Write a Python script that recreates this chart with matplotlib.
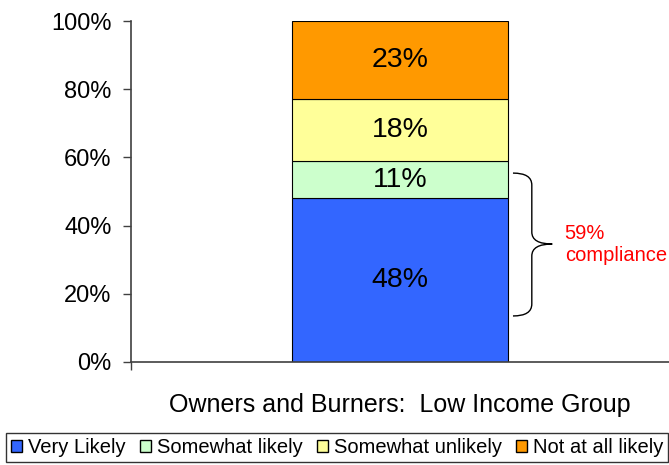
import numpy as np
import matplotlib.pyplot as plt
from matplotlib.path import Path
from matplotlib.patches import PathPatch, Patch

plt.rcParams['font.family'] = ['Liberation Sans', 'DejaVu Sans']

category = 'Owners and Burners:  Low Income Group'
labels = ['Very Likely', 'Somewhat likely', 'Somewhat unlikely', 'Not at all likely']
values = [48, 11, 18, 23]
colors = ['#3366FF', '#CCFFCC', '#FFFF99', '#FF9900']

fig = plt.figure(figsize=(6.69, 4.65), dpi=100)
ax = fig.add_axes([131/669, 1-362/465, 1-131/669, 341/465])

bottom = 0
for lab, v, c in zip(labels, values, colors):
    ax.bar(0, v, width=0.4, bottom=bottom, color=c, edgecolor='black', linewidth=0.8, label=lab)
    ax.text(0, bottom + v/2, f'{v}%', ha='center', va='center', fontsize=20.5)
    bottom += v

ax.set_xlim(-0.5, 0.5)
ax.set_ylim(0, 100)
ax.set_yticks(np.arange(0, 101, 20))
ax.set_yticklabels([f'{t}%' for t in range(0, 101, 20)], fontsize=17)
ax.set_xticks([-0.5])
ax.set_xticklabels([''])
ax.tick_params(axis='both', length=6, width=1, color='#404040', direction='out')
ax.tick_params(axis='y', pad=8)
for s in ['top', 'right']:
    ax.spines[s].set_visible(False)
for s in ['left', 'bottom']:
    ax.spines[s].set_color('#404040')
    ax.spines[s].set_linewidth(1.2)

ax.text(0, -12.6, category, ha='center', va='center', fontsize=18)

# brace for compliance
x0, x1, x2 = 0.21, 0.245, 0.283
ytop, ytip, ybot = 55.4, 34.6, 13.5
verts = [(x0, ytop), (x1, ytop), (x1, ytop - 3.5),
         (x1, ytip + 3.5),
         (x1, ytip), (x2, ytip),
         (x1, ytip), (x1, ytip - 3.5),
         (x1, ybot + 3.5),
         (x1, ybot), (x0, ybot)]
codes = [Path.MOVETO, Path.CURVE3, Path.CURVE3,
         Path.LINETO,
         Path.CURVE3, Path.CURVE3,
         Path.CURVE3, Path.CURVE3,
         Path.LINETO,
         Path.CURVE3, Path.CURVE3]
ax.add_patch(PathPatch(Path(verts, codes), fill=False, edgecolor='black', linewidth=1, clip_on=False))
ax.text(0.306, 34.5, '59%\ncompliance', color='red', fontsize=14.5, ha='left', va='center',
        linespacing=1.2, clip_on=False)

handles = [Patch(facecolor=c, edgecolor='black', label=l) for l, c in zip(labels, colors)]
leg = fig.legend(handles=handles, loc='lower center', bbox_to_anchor=(337/669, 3/465), ncol=4,
                 fontsize=14.5, frameon=True, fancybox=False, edgecolor='black',
                 handlelength=0.55, handleheight=0.55, handletextpad=0.3, columnspacing=0.7,
                 borderpad=0.25, borderaxespad=0)
leg.get_frame().set_linewidth(1)

fig.savefig('out.png', dpi=100)
